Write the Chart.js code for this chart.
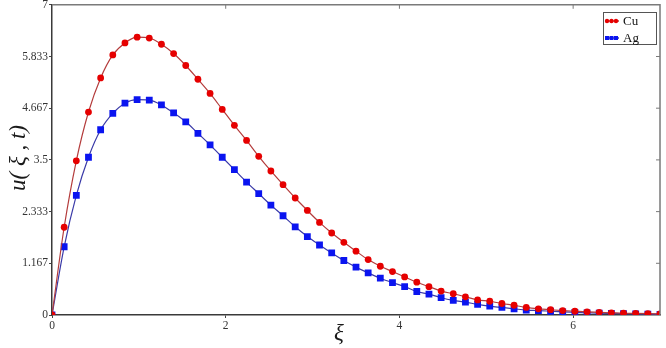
<!DOCTYPE html>
<html>
<head>
<meta charset="utf-8">
<script src="https://cdn.jsdelivr.net/npm/chart.js@4/dist/chart.umd.min.js"></script>
<style>
    html, body { margin: 0; padding: 0; background: #ffffff; }
    #wrap { width: 666px; height: 348px; }
</style>
</head>
<body>
<div id="wrap"><canvas id="chart"></canvas></div>
<script>
// values
const xi = [0, 0.14, 0.28, 0.42, 0.56, 0.70, 0.84, 0.98, 1.12, 1.26, 1.40, 1.54, 1.68, 1.82, 1.96, 2.10, 2.24,
    2.38, 2.52, 2.66, 2.80, 2.94, 3.08, 3.22, 3.36, 3.50, 3.64, 3.78, 3.92, 4.06, 4.20, 4.34, 4.48, 4.62,
    4.76, 4.90, 5.04, 5.18, 5.32, 5.46, 5.60, 5.74, 5.88, 6.02, 6.16, 6.30, 6.44, 6.58, 6.72, 6.86, 7.00];

const cuValues = [0, 1.98, 3.48, 4.58, 5.35, 5.87, 6.14, 6.27, 6.25, 6.11, 5.90, 5.63, 5.32, 5.00, 4.64, 4.28,
    3.94, 3.58, 3.25, 2.94, 2.64, 2.36, 2.09, 1.85, 1.64, 1.44, 1.25, 1.10, 0.98, 0.86, 0.74, 0.64, 0.54,
    0.48, 0.41, 0.34, 0.31, 0.26, 0.22, 0.17, 0.14, 0.12, 0.10, 0.085, 0.07, 0.06, 0.05, 0.04, 0.035, 0.03, 0.025];

const agValues = [0, 1.54, 2.70, 3.56, 4.18, 4.55, 4.78, 4.86, 4.85, 4.74, 4.56, 4.36, 4.10, 3.84, 3.56, 3.28,
    3.00, 2.74, 2.48, 2.24, 1.99, 1.77, 1.58, 1.40, 1.23, 1.08, 0.95, 0.83, 0.73, 0.64, 0.53, 0.47, 0.39,
    0.33, 0.29, 0.24, 0.20, 0.17, 0.14, 0.11, 0.10, 0.085, 0.07, 0.06, 0.05, 0.04, 0.035, 0.03, 0.025, 0.02, 0.015];

const xTicks = [0, 2, 4, 6];
const yTicks = [0, 1.167, 2.333, 3.5, 4.667, 5.833, 7];

const seriesNames = ["Cu", "Ag"];

function points(values) {
    return values.map((v, i) => ({ x: xi[i], y: v }));
}

const SERIF = "'Liberation Serif', 'Times New Roman', serif";

// frame, inward ticks, axis titles and the boxed legend
const decorations = {
    id: "decorations",
    afterDraw(chart) {
        const ctx = chart.ctx;
        const a = chart.chartArea;
        const xs = chart.scales.x, ys = chart.scales.y;
        ctx.save();

        // top and right frame lines
        ctx.strokeStyle = "#7a7a7a";
        ctx.lineWidth = 1.5;
        ctx.beginPath();
        ctx.moveTo(a.left, a.top);
        ctx.lineTo(a.right, a.top);
        ctx.lineTo(a.right, a.bottom);
        ctx.stroke();

        // inward ticks on top and right
        ctx.lineWidth = 1;
        ctx.beginPath();
        xTicks.forEach(v => {
            const px = xs.getPixelForValue(v);
            if (v > 0) { ctx.moveTo(px, a.top); ctx.lineTo(px, a.top + 4); }
        });
        yTicks.forEach(v => {
            const py = ys.getPixelForValue(v);
            if (v > 0 && v < 7) { ctx.moveTo(a.right, py); ctx.lineTo(a.right - 4, py); }
        });
        ctx.stroke();

        // axis titles
        ctx.fillStyle = "#1a1a1a";
        ctx.font = "italic 23px " + SERIF;
        ctx.textAlign = "center";
        ctx.textBaseline = "middle";
        ctx.fillText("ξ", 339, 334);

        ctx.translate(19, 158);
        ctx.rotate(-Math.PI / 2);
        ctx.fillText("u( ξ , t)", 0, 0);
        ctx.setTransform(1, 0, 0, 1, 0, 0);

        // legend box
        const bx = 603, by = 12, bw = 53, bh = 32;
        ctx.fillStyle = "#ffffff";
        ctx.fillRect(bx, by, bw, bh);
        ctx.strokeStyle = "#555555";
        ctx.lineWidth = 1;
        ctx.strokeRect(bx + 0.5, by + 0.5, bw, bh);

        chart.data.datasets.forEach((ds, k) => {
            const ly = by + 9 + k * 17;
            ctx.strokeStyle = ds.borderColor;
            ctx.lineWidth = 1.5;
            ctx.beginPath();
            ctx.moveTo(bx + 3, ly);
            ctx.lineTo(bx + 16, ly);
            ctx.stroke();
            ctx.fillStyle = ds.pointBackgroundColor;
            for (let j = 0; j < 3; j++) {
                const cx = bx + 4 + j * 4.5;
                if (ds.pointStyle === "rect") {
                    ctx.fillRect(cx - 2, ly - 2, 4, 4);
                } else {
                    ctx.beginPath();
                    ctx.arc(cx, ly, 2.2, 0, Math.PI * 2);
                    ctx.fill();
                }
            }
            ctx.fillStyle = "#111111";
            ctx.font = "13px " + SERIF;
            ctx.textAlign = "left";
            ctx.fillText(ds.label, bx + 20, ly + 1);
        });

        ctx.restore();
    }
};

new Chart(document.getElementById("chart"), {
    type: "line",
    data: {
        datasets: [
            {
                label: seriesNames[0],
                data: points(cuValues),
                borderColor: "#b43c3c",
                borderWidth: 1.2,
                pointStyle: "circle",
                pointRadius: 3.4,
                pointBorderWidth: 0,
                pointBackgroundColor: "#e60000",
                cubicInterpolationMode: "monotone"
            },
            {
                label: seriesNames[1],
                data: points(agValues),
                borderColor: "#3a3aa8",
                borderWidth: 1.2,
                pointStyle: "rect",
                pointRadius: 4.8,
                pointBorderWidth: 0,
                pointBackgroundColor: "#0a14f0",
                cubicInterpolationMode: "monotone"
            }
        ]
    },
    options: {
        responsive: true,
        maintainAspectRatio: false,
        animation: false,
        layout: { padding: { top: 0, right: 6, left: 0, bottom: 0 } },
        plugins: {
            legend: { display: false },
            tooltip: { enabled: false }
        },
        scales: {
            x: {
                type: "linear",
                min: 0,
                max: 7,
                afterBuildTicks: (s) => { s.ticks = xTicks.map(v => ({ value: v })); },
                afterFit: (s) => { s.height = 33; },
                grid: { drawOnChartArea: false, drawTicks: true, tickLength: 3, color: "#444444" },
                border: { display: true, color: "#3a3a3a", width: 1.5 },
                ticks: {
                    color: "#333333",
                    padding: 1,
                    maxRotation: 0,
                    font: { family: SERIF, size: 11.5 },
                    callback: (v) => String(v)
                }
            },
            y: {
                min: 0,
                max: 7,
                afterBuildTicks: (s) => { s.ticks = yTicks.map(v => ({ value: v })); },
                afterFit: (s) => { s.width = 52; s.paddingTop = 0; },
                grid: { drawOnChartArea: false, drawTicks: true, tickLength: 3, color: "#444444" },
                border: { display: true, color: "#3a3a3a", width: 1.5 },
                ticks: {
                    color: "#333333",
                    padding: 1,
                    font: { family: SERIF, size: 11.5 },
                    callback: (v) => String(v)
                }
            }
        }
    },
    plugins: [decorations]
});
</script>
</body>
</html>
